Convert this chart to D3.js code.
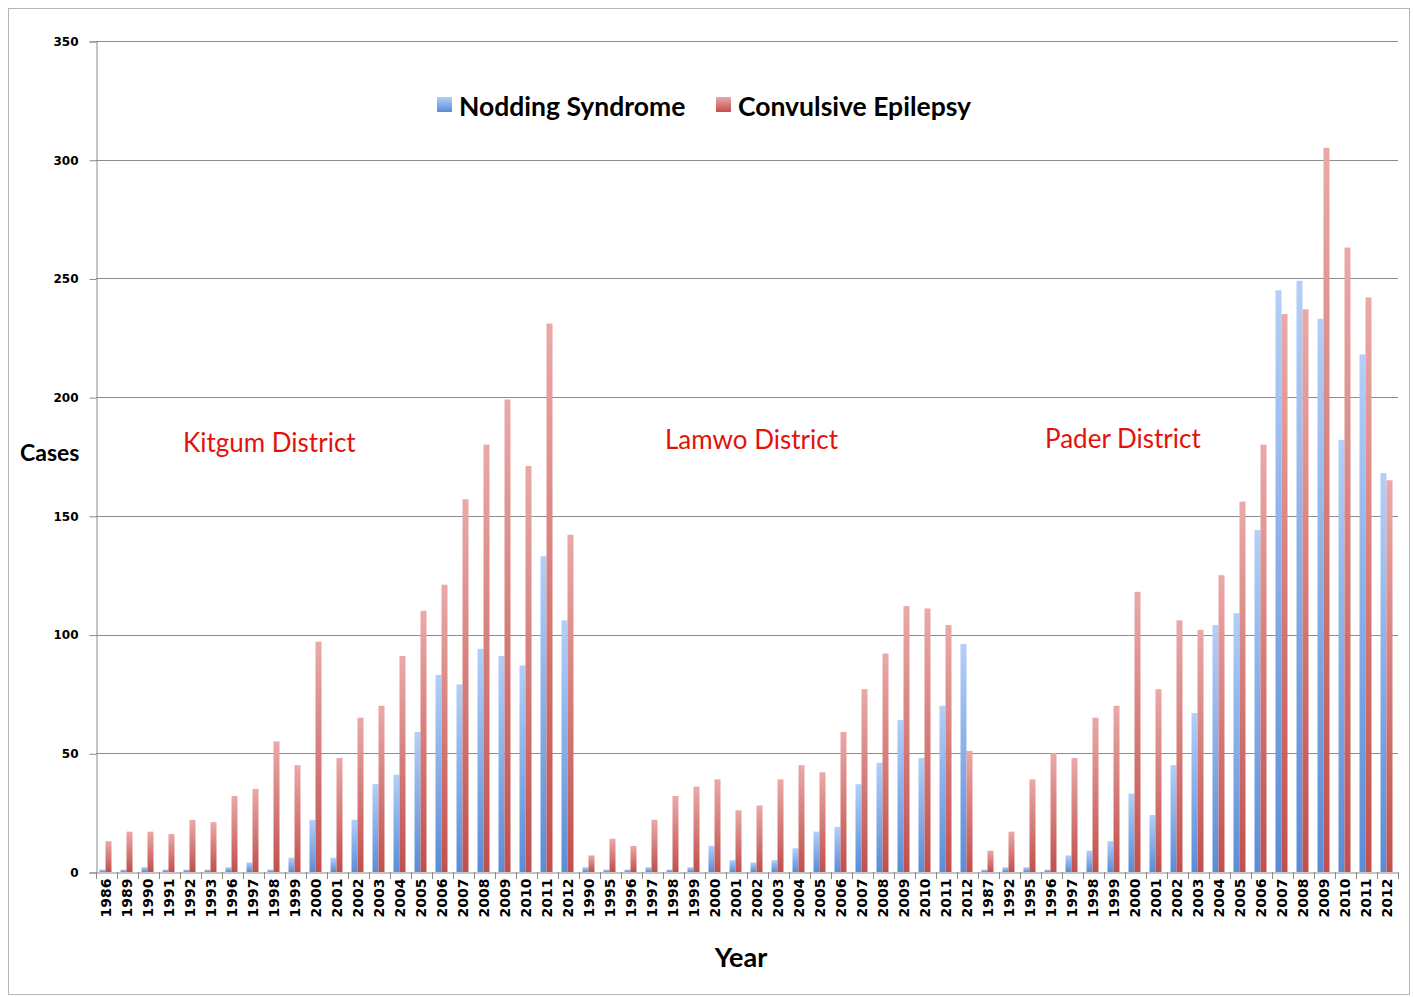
<!DOCTYPE html>
<html><head><meta charset="utf-8">
<script src="https://cdn.jsdelivr.net/npm/d3@7"></script>
<style>body{margin:0;background:#fff}svg{display:block}text{font-family:Lato,"Open Sans",sans-serif}</style>
</head><body>
<svg id="c" width="1413" height="997"></svg>
<script>
const districts = ["Kitgum District","Lamwo District","Pader District"];
const kitgumYears = ["1986","1989","1990","1991","1992","1993","1996","1997","1998","1999","2000","2001","2002","2003","2004","2005","2006","2007","2008","2009","2010","2011","2012"];
const kitgumNodding = [1,1,2,1,1,1,2,4,1,6,22,6,22,37,41,59,83,79,94,91,87,133,106];
const kitgumEpilepsy = [13,17,17,16,22,21,32,35,55,45,97,48,65,70,91,110,121,157,180,199,171,231,142];
const lamwoYears = ["1990","1995","1996","1997","1998","1999","2000","2001","2002","2003","2004","2005","2006","2007","2008","2009","2010","2011","2012"];
const lamwoNodding = [2,1,1,2,1,2,11,5,4,5,10,17,19,37,46,64,48,70,96];
const lamwoEpilepsy = [7,14,11,22,32,36,39,26,28,39,45,42,59,77,92,112,111,104,51];
const paderYears = ["1987","1992","1995","1996","1997","1998","1999","2000","2001","2002","2003","2004","2005","2006","2007","2008","2009","2010","2011","2012"];
const paderNodding = [1,2,2,1,7,9,13,33,24,45,67,104,109,144,245,249,233,182,218,168];
const paderEpilepsy = [9,17,39,50,48,65,70,118,77,106,102,125,156,180,235,237,305,263,242,165];
const seriesNames = ["Nodding Syndrome","Convulsive Epilepsy"];
const yTicks = [0,50,100,150,200,250,300,350];

const groups = [
  {name: districts[0], years: kitgumYears, a: kitgumNodding, b: kitgumEpilepsy},
  {name: districts[1], years: lamwoYears, a: lamwoNodding, b: lamwoEpilepsy},
  {name: districts[2], years: paderYears, a: paderNodding, b: paderEpilepsy}
];
const rows = [];
groups.forEach((g, gi) => g.years.forEach((y, i) => rows.push({key: gi + "-" + y, year: y, vals: [g.a[i], g.b[i]]})));

const svg = d3.select("#c");
const M = {left: 96, right: 1398, top: 41, bottom: 872};
const tickFont = "'DejaVu Sans', Verdana, sans-serif";

const defs = svg.append("defs");
function grad(id, top, bot) {
  const g = defs.append("linearGradient").attr("id", id).attr("x1",0).attr("y1",0).attr("x2",0).attr("y2",1);
  g.append("stop").attr("offset","0%").attr("stop-color",top);
  g.append("stop").attr("offset","100%").attr("stop-color",bot);
}
grad("gBlue", "#b3cff9", "#5a8cd6");
grad("gRed", "#eaa9a7", "#c0504d");

// outer frame
svg.append("rect").attr("x",8.5).attr("y",8.5).attr("width",1401).attr("height",986)
  .attr("fill","none").attr("stroke","#b5b5b5").attr("stroke-width",1);

const x = d3.scaleBand().domain(rows.map(r => r.key)).range([M.left, M.right]).padding(0);
const xi = d3.scaleBand().domain([0,1]).range([0, 12]).padding(0);
const y = d3.scaleLinear().domain([0,350]).range([M.bottom, M.top]);

// gridlines
svg.append("g").selectAll("line").data(yTicks.filter(t => t > 0)).join("line")
  .attr("x1", M.left).attr("x2", M.right)
  .attr("y1", d => Math.round(y(d)) + 0.5).attr("y2", d => Math.round(y(d)) + 0.5)
  .attr("stroke","#8c8c8c").attr("stroke-width",1);

// y axis
const yAxis = svg.append("g").attr("transform", `translate(${M.left + 0.5},0.5)`)
  .call(d3.axisLeft(y).tickValues(yTicks).tickSize(7).tickPadding(11));
yAxis.select(".domain").attr("stroke","#8c8c8c");
yAxis.selectAll(".tick line").attr("stroke","#8c8c8c");
yAxis.selectAll(".tick text").attr("font-size",12).attr("font-weight","bold").attr("fill","#000")
  .style("font-family", tickFont);

// bars
const bw = x.bandwidth();
const gBars = svg.append("g");
rows.forEach(r => {
  r.vals.forEach((v, k) => {
    gBars.append("rect")
      .attr("x", x(r.key) + (bw - 12) / 2 - 1 + xi(k))
      .attr("y", y(v))
      .attr("width", xi.bandwidth())
      .attr("height", M.bottom - y(v))
      .attr("fill", k === 0 ? "url(#gBlue)" : "url(#gRed)");
  });
});

// x axis
const xAxis = svg.append("g").attr("transform", `translate(0,${M.bottom + 0.5})`)
  .call(d3.axisBottom(x).tickFormat(k => k.split("-")[1]).tickSize(0).tickPadding(6));
xAxis.select(".domain").attr("stroke","#8c8c8c");
xAxis.selectAll(".tick text")
  .attr("font-size",14).attr("font-weight","bold").attr("fill","#000")
  .style("font-family", tickFont)
  .attr("transform","rotate(-90)").attr("text-anchor","end").attr("dy","0.35em")
  .attr("x", -6).attr("y", 0);
// tick marks at band edges
const edges = rows.map(r => x(r.key)).concat([M.right]);
svg.append("g").selectAll("line").data(edges).join("line")
  .attr("x1", d => Math.round(d) + 0.5).attr("x2", d => Math.round(d) + 0.5)
  .attr("y1", M.bottom).attr("y2", M.bottom + 7)
  .attr("stroke","#8c8c8c");

// district labels
const labelPos = [[183, 452], [665, 449], [1045, 448]];
districts.forEach((d, i) => {
  svg.append("text").attr("x", labelPos[i][0]).attr("y", labelPos[i][1])
    .attr("font-size", 26).attr("fill", "#e3120b").text(d);
});

// axis titles
svg.append("text").attr("x", 20).attr("y", 461).attr("font-size", 23).attr("font-weight","bold").text("Cases");
svg.append("text").attr("x", 741).attr("y", 967).attr("text-anchor","middle").attr("font-size", 27).attr("font-weight","bold").text("Year");

// legend
const leg = svg.append("g");
const legX = [437, 716];
seriesNames.forEach((s, i) => {
  leg.append("rect").attr("x", legX[i]).attr("y", 97).attr("width", 15).attr("height", 15)
    .attr("fill", i === 0 ? "url(#gBlue)" : "url(#gRed)");
  leg.append("text").attr("x", legX[i] + 22).attr("y", 116).attr("font-size", 26.5).attr("font-weight","bold").text(s);
});
</script>
</body></html>
